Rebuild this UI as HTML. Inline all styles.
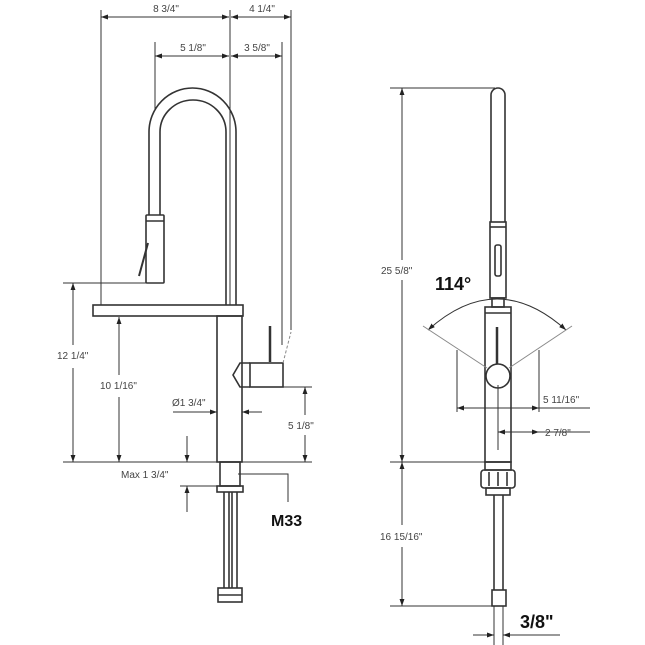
<!DOCTYPE html>
<html><head><style>body{margin:0;background:#fff}svg{display:block}</style></head><body>
<svg width="645" height="645" viewBox="0 0 645 645" xmlns="http://www.w3.org/2000/svg" font-family="Liberation Sans, sans-serif">
<defs>
<marker id="a" viewBox="0 0 10 10" refX="10" refY="5" markerWidth="7" markerHeight="7" orient="auto-start-reverse"><path d="M0,1.5 L10,5 L0,8.5 z" fill="#222"/></marker>
</defs>
<g stroke="#333" stroke-width="1" fill="none">
<!-- LEFT VIEW extension lines -->
<line x1="101" y1="10" x2="101" y2="305"/>
<line x1="230" y1="10" x2="230" y2="305"/>
<line x1="291" y1="10" x2="291" y2="330"/>
<line x1="155" y1="42" x2="155" y2="110"/>
<line x1="282" y1="42" x2="282" y2="345"/>
<line x1="101" y1="17" x2="229" y2="17" marker-start="url(#a)" marker-end="url(#a)"/>
<line x1="231" y1="17" x2="291" y2="17" marker-start="url(#a)" marker-end="url(#a)"/>
<line x1="155" y1="56" x2="229" y2="56" marker-start="url(#a)" marker-end="url(#a)"/>
<line x1="231" y1="56" x2="282" y2="56" marker-start="url(#a)" marker-end="url(#a)"/>
<!-- gooseneck -->
<g stroke-width="1.6">
<path d="M149,215 L149,132 A43.5,44 0 0 1 236,132 L236,305"/>
<path d="M160,215 L160,132 A33,32 0 0 1 226,132 L226,305"/>
<rect x="146" y="215" width="18" height="68" rx="1"/>
<line x1="146" y1="221" x2="164" y2="221"/>
<line x1="139" y1="276" x2="148" y2="243" stroke-width="2"/>
<rect x="93" y="305" width="150" height="11"/>
<rect x="217" y="316" width="25" height="146"/>
<rect x="250" y="363" width="33" height="24"/>
<path d="M250,363 L240,363 L233,375 L240,387 L250,387"/>
<line x1="270" y1="326" x2="270" y2="362" stroke-width="2.5"/>
<rect x="220" y="462" width="20" height="24"/>
<rect x="217" y="486" width="26" height="6"/>
<line x1="224" y1="492" x2="224" y2="588"/><line x1="229" y1="492" x2="229" y2="588"/>
<line x1="232" y1="492" x2="232" y2="588"/><line x1="237" y1="492" x2="237" y2="588"/>
<rect x="218" y="588" width="24" height="14"/>
<line x1="218" y1="595" x2="242" y2="595"/>
</g>
<line x1="283" y1="363" x2="291" y2="332" stroke="#888" stroke-dasharray="3,2"/>
<line x1="63" y1="283" x2="146" y2="283"/>
<line x1="63" y1="462" x2="312" y2="462"/>
<line x1="73" y1="283" x2="73" y2="345" marker-start="url(#a)"/>
<line x1="73" y1="368" x2="73" y2="462" marker-end="url(#a)"/>
<line x1="119" y1="317" x2="119" y2="375" marker-start="url(#a)"/>
<line x1="119" y1="397" x2="119" y2="462" marker-end="url(#a)"/>
<line x1="173" y1="412" x2="217" y2="412" marker-end="url(#a)"/>
<line x1="262" y1="412" x2="242" y2="412" marker-end="url(#a)"/>
<line x1="283" y1="387" x2="312" y2="387"/>
<line x1="305" y1="387" x2="305" y2="415" marker-start="url(#a)"/>
<line x1="305" y1="435" x2="305" y2="462" marker-end="url(#a)"/>
<line x1="187" y1="436" x2="187" y2="462" marker-end="url(#a)"/>
<line x1="187" y1="512" x2="187" y2="486" marker-end="url(#a)"/>
<line x1="180" y1="486" x2="217" y2="486"/>
<polyline points="238,474 288,474 288,502"/>
<!-- RIGHT VIEW -->
<line x1="390" y1="88" x2="495" y2="88"/>
<line x1="390" y1="462" x2="485" y2="462"/>
<line x1="390" y1="606" x2="500" y2="606"/>
<line x1="402" y1="88" x2="402" y2="260" marker-start="url(#a)"/>
<line x1="402" y1="280" x2="402" y2="462" marker-end="url(#a)"/>
<line x1="402" y1="462" x2="402" y2="525" marker-start="url(#a)"/>
<line x1="402" y1="547" x2="402" y2="606" marker-end="url(#a)"/>
<g stroke-width="1.6">
<path d="M491,222 L491,95 A7,7 0 0 1 505,95 L505,222"/>
<rect x="490" y="222" width="16" height="76"/>
<line x1="490" y1="227" x2="506" y2="227"/>
<rect x="495" y="245" width="6" height="31" rx="2"/>
<rect x="492" y="298" width="12" height="9"/>
<rect x="485" y="307" width="26" height="155"/>
<line x1="485" y1="313" x2="511" y2="313"/>
<line x1="497" y1="327" x2="497" y2="372" stroke-width="2.5"/>
<circle cx="498" cy="376" r="12" fill="#fff"/>
<rect x="485" y="462" width="26" height="8"/>
<rect x="481" y="470" width="34" height="18" rx="3"/>
<line x1="489" y1="472" x2="489" y2="486"/><line x1="498" y1="472" x2="498" y2="486"/><line x1="507" y1="472" x2="507" y2="486"/>
<rect x="486" y="488" width="24" height="7"/>
<line x1="494" y1="495" x2="494" y2="590"/><line x1="503" y1="495" x2="503" y2="590"/>
<rect x="492" y="590" width="14" height="16"/>
</g>
<path d="M428,330 Q497,268 566,330" marker-start="url(#a)" marker-end="url(#a)"/>
<line x1="423" y1="326" x2="487" y2="368" stroke="#888"/>
<line x1="572" y1="326" x2="509" y2="368" stroke="#888"/>
<line x1="457" y1="350" x2="457" y2="412"/>
<line x1="539" y1="350" x2="539" y2="412"/>
<line x1="457" y1="408" x2="539" y2="408" marker-start="url(#a)" marker-end="url(#a)"/>
<line x1="539" y1="408" x2="590" y2="408"/>
<line x1="498" y1="385" x2="498" y2="450"/>
<line x1="498" y1="432" x2="539" y2="432" marker-start="url(#a)" marker-end="url(#a)"/>
<line x1="539" y1="432" x2="590" y2="432"/>
<line x1="494" y1="606" x2="494" y2="645"/>
<line x1="503" y1="606" x2="503" y2="645"/>
<line x1="473" y1="635" x2="494" y2="635" marker-end="url(#a)"/>
<line x1="560" y1="635" x2="503" y2="635" marker-end="url(#a)"/>
</g>
<g fill="#444" font-size="10">
<text x="166" y="12" text-anchor="middle">8 3/4"</text>
<text x="262" y="12" text-anchor="middle">4 1/4"</text>
<text x="193" y="51" text-anchor="middle">5 1/8"</text>
<text x="257" y="51" text-anchor="middle">3 5/8"</text>
<text x="57" y="359">12 1/4"</text>
<text x="100" y="389">10 1/16"</text>
<text x="172" y="406">Ø1 3/4"</text>
<text x="288" y="429">5 1/8"</text>
<text x="121" y="478">Max  1 3/4"</text>
<text x="381" y="274">25 5/8"</text>
<text x="543" y="403">5 11/16"</text>
<text x="545" y="436">2 7/8"</text>
<text x="380" y="540">16 15/16"</text>
</g>
<g fill="#111" font-weight="bold">
<text x="271" y="526" font-size="16">M33</text>
<text x="435" y="290" font-size="18">114°</text>
<text x="520" y="628" font-size="18">3/8"</text>
</g>
</svg>
</body></html>
